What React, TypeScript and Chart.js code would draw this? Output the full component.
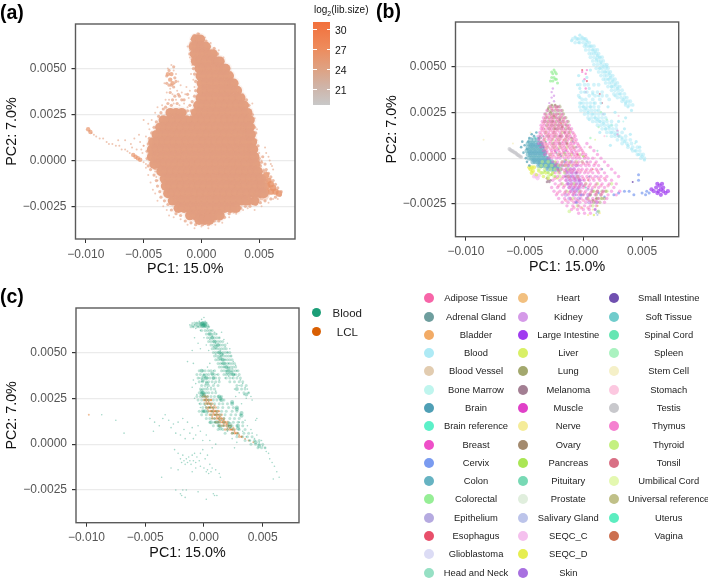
import React, { useEffect, useRef } from "react";
import { Chart, registerables } from "chart.js";

Chart.register(...registerables);

// ---- shared axis tables
const xTickValues = [-0.01, -0.005, 0, 0.005];
const xTickLabels = ["\u22120.010", "\u22120.005", "0.000", "0.005"];
const yTickValues = [-0.0025, 0, 0.0025, 0.005];
const yTickLabels = ["\u22120.0025", "0.0000", "0.0025", "0.0050"];

// ---- panel (a): rows are [PC2, PC1, PC1, ...]
const aBodyRows = [
  [66, -5, -1],
  [62, -7, -3, 1, 4],
  [58, -6, -2, 3, 7, 10],
  [54, -5, 0, 5, 10, 14, 16],
  [50, -2, 3, 8, 13, 18, 21],
  [46, -1, 4, 9, 14, 19, 24],
  [42, 0, 5, 10, 15, 20, 25, 28],
  [38, 0, 5, 10, 15, 20, 25, 31],
  [34, -1, 4, 9, 14, 19, 24, 29, 34],
  [30, -3, 2, 7, 12, 17, 22, 27, 32, 37],
  [26, -27, -22, -17, -5, 0, 5, 10, 15, 20, 25, 30, 35, 40],
  [22, -33, -28, -23, -18, -13, -8, -3, 2, 7, 12, 17, 22, 27, 32, 37, 42],
  [18, -36, -31, -26, -21, -16, -11, -6, -1, 4, 9, 14, 19, 24, 29, 34, 39, 42],
  [14, -39, -34, -29, -24, -19, -14, -9, -4, 1, 6, 11, 16, 21, 26, 31, 36, 41, 43],
  [10, -42, -37, -32, -27, -22, -17, -12, -7, -2, 3, 8, 13, 18, 23, 28, 33, 38, 44],
  [6, -43, -38, -33, -28, -23, -18, -13, -8, -3, 2, 7, 12, 17, 22, 27, 32, 37, 42, 45],
  [2, -43, -38, -33, -28, -23, -18, -13, -8, -3, 2, 7, 12, 17, 22, 27, 32, 37, 42, 46],
  [-2, -41, -36, -31, -26, -21, -16, -11, -6, -1, 4, 9, 14, 19, 24, 29, 34, 39, 44, 47],
  [-6, -35, -30, -25, -20, -15, -10, -5, 0, 5, 10, 15, 20, 25, 30, 35, 40, 45, 49],
  [-10, -32, -27, -22, -17, -12, -7, -2, 3, 8, 13, 18, 23, 28, 33, 38, 43, 48, 52],
  [-14, -31, -26, -21, -16, -11, -6, -1, 4, 9, 14, 19, 24, 29, 34, 39, 44, 49, 53],
  [-18, -29, -24, -19, -14, -9, -4, 1, 6, 11, 16, 21, 26, 31, 36, 41, 46, 51, 54],
  [-22, -25, -20, -15, -10, -5, 0, 5, 10, 15, 20, 25, 30, 35, 40, 46],
  [-26, -20, -15, -10, -5, 0, 5, 10, 15, 20, 25, 30],
  [-30, -10, -5, 0, 4, 8, 12, 16],
  [-32.5, -2, 3, 7],
];
const aGreyPatch = [
  3, 58, 6, 55, 9, 52, 6, 50, 12, 49, 15, 46, 11, 45, 18, 42, 15, 40,
  20, 37, 18, 33, 22, 29, 19, 25, 25, 32, 17, 21,
  26, 8, 31, 6, 36, 4, 28, 2, 33, 0, 38, -2, 30, -4, 35, -6, 39, -8, 26, -3,
  3, -30, 8, -29, 13, -30, 5, -26, 10, -25, 15, -26, -1, -27, 27, -19, 31, -21, 24, -22,
  -22, -14, -17, -16, -13, -18, -24, 6, -20, 9, -25, 14, -6, 10, 1, 4, -4, 1,
];
const aDeepPatch = [
  -4, 66, -1, 64, -4, 62, 14, -9, 18, -11, 22, -13, 26, -15, 30, -17,
  43, -16, 47, -15, 51, -15, 55, -14, 50, -19, 54, -19, 44, -20, -12, -14, -8, -17,
  -37, 5, -33, 2, -29, 0, -24, -3, 8, 12, 12, 14,
];
const aWedge = [
  56, -8, 58, -11, 60, -13, 57, -14, 62, -15, 64, -17, 60, -17, 56, -17, 67, -18,
];
const aFringe = [
  -10, 60, -12, 62, -10, 56, -8, 52, -9, 47, -7, 44, -6, 40, -10, 38, -13, 40, -11, 34, -14, 36,
  -17, 37, -18, 41, -21, 38, -23, 42, -25, 36, -22, 33, -27, 39, -30, 37, -28, 33, -15, 31, -19, 30,
  -12, 29, -24, 31, -32, 42, -29, 50, -26, 52, -24, 49, -22, 47, -20, 43, -31, 33, -34, 30, -38, 29,
  -40, 26, -43, 22, -45, 17, -48, 13, -50, 8, -51, 4, -48, -4, -46, -8, -44, -12, -42, -16,
  -40, -18, -38, -22, -33, -25, -30, -27, -28, -30, -24, -31, -18, -32, -12, -35, -6, -37, 0, -36,
  6, -37, 12, -35, 18, -34, 24, -31, 30, -29, 36, -27, 40, -26, 46, -27, 52, -25, 58, -23,
  62, -21, 66, -21, 47, 6, 50, 4, 52, 0, 49, -3, 46, 11, 48, 17, 46, 23, 42, 27, 44, 31, 36, 36,
  30, 41, 27, 46, 23, 51, 19, 56, 15, 60, 8, 64, 3, 67, -2, 69, -7, 68, -9, 66,
];
const aSoftEdge = [
  -9, 64, -10, 58, -8, 55, -7, 50, -6, 47, -5, 43, -5, 38, -6, 35, -8, 32, -10, 30, -12, 27, -9, 27, -14, 26,
  -15, 33, -12, 36, -17, 33, -19, 35, -21, 31, -23, 35, -25, 33, -26, 30, -29, 31, -31, 29, -33, 28, -35, 26,
  -24, 40, -26, 41, -28, 41, -30, 42, -23, 45, -22, 43, -24, 51, -28, 49, -30, 46, -27, 37, -20, 36,
  -37, 24, -39, 21, -41, 18, -43, 15, -45, 12, -46, 9, -47, 5, -47, 1, -46, -3, -44, -5, -41, -8, -39, -11,
  -38, -14, -36, -17, -35, -20, -32, -22, -29, -24, -26, -27, -22, -29, -18, -30, -14, -33, -9, -34, -5, -35,
  1, -35, 6, -35, 11, -33, 15, -33, 20, -31, 24, -29, 28, -28, 34, -26, 38, -25, 42, -25, 47, -24, 51, -23,
  55, -22, 60, -21, 64, -20, 68, -19, 69, -17, 66, -15, 64, -13, 62, -11, 60, -9, 58, -7, 56, -5, 55, -2, 53, 2,
  50, 1, 49, 8, 47, 11, 47, 15, 45, 19, 44, 25, 41, 30, 39, 33, 36, 33, 33, 37, 31, 40, 29, 43, 27, 44, 25, 48,
  22, 49, 19, 52, 17, 55, 14, 58, 11, 61, 7, 62, 4, 65, 1, 67, -3, 69, -6, 68,
  51, -3, 50, -6, 54, -6, 53, -10, 56, -11, 55, -12, 47, 3, 52, -1, 49, 0, 46, 18, 44, 22,
];
const aTail = [
  -97, 16, -95, 15, -93, 14, -91, 13, -88, 12, -85, 12, -82, 10, -80, 9, -77, 9, -74, 8,
  -71, 8, -69, 6, -66, 6, -64, 5, -62, 4, -60, 7, -56, 6, -52, 6, -50, 8, -46, 5, -50, -1,
  -48, -2, -53, 10, -58, 12, -61, 9, -66, 11, -72, 11, -54, 14, -46, 20, -50, 22,
  55, 7, 56, 4, 58, 2, 59, 0, 60, -2, 61, -3, 62, -5, 54, -5, 56, -6,
  -41, -3, -40, -6, -39, -9, -38, -11,
];
const aDenseSpots = [
  -98, 17, -96, 15.5, -59, 3, -57, 2, -55, 1.2, -53, 0.4,
  -27, 44, -29, 47, -26, 47, -25, 42,
  -41, -2, -40, -4,
];

// ---- panel (b): tissue scatter, flat x,y pairs and [PC2, PC1...] rows
const bBlood = [
  -10, 64, -7, 66, -5, 65, -3, 67, -1, 66, 1, 65, 3, 64, -4, 63, 2, 62, 6, 61, 8, 59, 10, 58, 12, 56,
  14, 55, 11, 54, 15, 52, 17, 50, 20, 50, 14, 49, 19, 47, 22, 46, 23, 44, 25, 42, 21, 43, 27, 40, 24, 39,
  29, 38, 31, 35, 27, 34, 34, 32, 36, 30, 38, 28, 41, 26, -4, 45, -5, 40, -3, 38, 0, 42, 3, 44, 6, 48,
  -3, 33, 1, 36, 5, 38, 8, 35, -2, 30, 0, 28, 2, 27, 4, 25, 6, 28, 8, 24, 10, 22, 12, 21, 14, 20, 17, 19,
  19, 16, 22, 17, 24, 14, 27, 13, 30, 12, 33, 11, 35, 9, 38, 7, 41, 5, 44, 4, 47, 2, 50, 1, 52, -1, 30, 20,
  35, 16, 40, 13, 45, 9, 27, 25, 21, 28, 15, 30, 13, 34, 18, 24, 36, 22, 9, 30, 5, 21, 48, 6, 14, 14, 23, 7,
];
const bBloodRows = [
  [65, -9, -6, -4, -2, 0, 2], [63, -7, -3, 0, 3, 5], [61, 1, 3, 5, 7, 9], [59, 2, 5, 8, 10, 12], [57, 5, 7, 9, 11, 13],
  [55, 6, 9, 12, 14, 16], [53, 8, 11, 13, 15, 17], [51, 9, 12, 15, 18, 20], [49, 11, 14, 16, 19, 21], [47, 13, 16, 18, 21, 23],
  [45, 15, 18, 20, 23, 25], [43, 17, 19, 22, 25, 27], [41, 19, 22, 24, 27, 29], [39, 21, 24, 26, 29, 31], [37, 24, 27, 30, 33],
  [35, 26, 29, 32, 35], [33, 29, 32, 35, 37], [31, 33, 36, 38, 40], [29, 36, 39, 42],
  [40, -3, 1, 4, 9, 13], [36, -2, 3, 8, 12, 16], [34, -4, 5, 10, 16, 20], [32, -1, 2, 8, 14, 22],
  [30, -3, 0, 3, 6, 10], [28, -3, 0, 3, 6, 9, 13], [26, -2, 1, 4, 7, 10, 13], [24, 1, 4, 7, 10, 13, 16], [22, 4, 7, 10, 13, 16, 19],
  [20, 8, 11, 14, 17, 20, 24], [18, 12, 15, 18, 21, 24, 28], [16, 16, 19, 22, 25, 28], [14, 20, 23, 26, 29, 33], [12, 24, 27, 31, 36],
  [10, 29, 33, 36, 40], [8, 33, 37, 41], [6, 38, 42, 46], [4, 42, 45, 48], [2, 46, 49, 51], [0, 49, 52],
];
const bTestis = [
  -63, 5, -62, 4.5, -61, 4, -60, 3.8, -59, 3.2, -58, 3, -57, 2.4, -56, 1.8, -55, 1.5, -54, 1, -53, 0.6,
];
const bLargeIntestine = [
  72, -18, 70, -19, 68, -18, 66, -17, 65, -15, 63, -14, 66, -20, 63, -19, 60, -18, 58, -17, 62, -16,
  68, -16, 64, -18, 67, -14,
];
const bCervix = [
  56, -19, 53, -20, 54, -18, 50, -19, 47, -12, 47, -9, 35, -18, 39, -18, 43, -20, 30, -19, 26, -20,
];
const bSeqcD = [-45, -6, -44, -5, -43, -7, -46, -5, -44, -8, -42, -5];
const bLiverBand = [-40, -9, -38, -7, -36, -8, -34, -10, -32, -8, -30, -11, -28, -9, -26, -8];
const bSeqcC = [-41, -9, -40, -10, -39, -11, -38, -9.5, -42, -10];
const bColonRows = [
  [10, -45, -42, -39], [8, -47, -45, -43, -41, -38, -36], [6, -47, -45, -43, -41, -39, -37, -35],
  [4, -48, -46, -44, -42, -40, -38, -36, -34], [2, -47, -45, -43, -41, -39, -37, -35, -33],
  [0, -46, -44, -42, -40, -38, -36, -34, -32, -30], [-2, -43, -41, -39, -37, -35, -33, -31, -29, -27],
  [-4, -38, -36, -34, -32, -30, -28, -26, -24, -22], [-6, -30, -27, -25, -23, -20],
];
const bCervixRows = [
  [7, -44, -40, -36], [3, -45, -41, -37, -33], [-1, -42, -38, -34, -30], [-3, -37, -33, -29, -25], [-5, -31, -27, -23],
];
const bBrain = [
  -48, 5, -47, 9, -46, 11, -42, 12, -38, 11, -50, 7, -52, 9, -51, 3, -49, 0, -48, -2, -46, -4, -53, 6, -44, 13, -40, 14,
];
const bBreastRows = [
  [28, -28, -24, -21], [26, -31, -26, -22, -19], [24, -33, -29, -25, -22, -18], [22, -34, -31, -27, -23, -20, -16],
  [20, -35, -32, -28, -25, -21, -18, -14], [18, -36, -33, -29, -26, -22, -19, -15, -12],
  [16, -36, -34, -30, -27, -23, -20, -17, -13, -10], [14, -37, -33, -30, -26, -24, -20, -16, -13, -9],
  [12, -38, -35, -31, -28, -25, -21, -18, -14, -11, -7], [10, -38, -34, -30, -27, -23, -20, -16, -13, -9, -6],
  [8, -38, -35, -32, -29, -25, -22, -18, -15, -11, -8, -5, 3], [6, -36, -33, -30, -26, -23, -19, -16, -12, -9, -6, -3, 6],
  [4, -34, -31, -27, -24, -21, -17, -14, -10, -7, -4, -1, 9], [2, -33, -29, -26, -22, -19, -15, -12, -8, -5, -1, 2, 12],
  [0, -30, -27, -23, -20, -16, -13, -9, -6, -3, 1, 4, 8, 15], [-2, -26, -22, -18, -14, -11, -7, -4, -1, 3, 6, 11, 18],
  [-4, -24, -20, -16, -13, -9, -6, -2, 2, 5, 9, 13, 21], [-6, -22, -18, -15, -11, -8, -4, -1, 3, 7, 11, 15, 24],
  [-8, -24, -20, -14, -10, -6, -3, 1, 4, 8, 13, 18, 27], [-10, -22, -17, -13, -9, -5, -1, 3, 6, 10, 15, 20, 30],
  [-12, -26, -20, -15, -11, -7, -3, 1, 5, 9, 14, 19, 24], [-14, -24, -19, -14, -10, -6, -2, 2, 6, 11, 16, 22, 28],
  [-16, -27, -22, -17, -12, -8, -4, 0, 4, 8, 13, 18, 26], [-18, -25, -20, -15, -11, -7, -2, 2, 7, 12, 17, 24, 31],
  [-20, -23, -18, -13, -9, -4, 0, 5, 10, 15, 21, 28], [-22, -21, -16, -11, -7, -2, 3, 8, 13, 20],
  [-24, -18, -13, -8, -3, 2, 7, 12, 18], [-26, -14, -9, -4, 1, 6, 11], [-28, -10, -5, 0, 5, 10], [-30, -4, 1, 6],
];
const bAdiposeRows = [
  [27, -27, -23], [23, -31, -27, -24, -19], [21, -33, -29, -26, -22, -17], [19, -34, -30, -27, -24, -20, -16],
  [17, -35, -31, -28, -25, -21, -18, -13], [15, -35, -32, -28, -25, -22, -18, -15, -11], [13, -36, -32, -29, -26, -23, -19, -15, -12, -8],
  [11, -37, -33, -29, -26, -22, -19, -15, -12, -8], [9, -36, -33, -28, -24, -21, -17, -14, -10, -7], [7, -34, -31, -27, -24, -20, -17, -13, -10, -4],
  [5, -32, -28, -25, -22, -18, -15, -11, -8, -2], [3, -31, -27, -24, -20, -17, -13, -10, -6, 0], [1, -28, -25, -21, -18, -14, -11, -7, -4, 2],
  [-3, -23, -19, -15, -12, -8, -5, 0, 4, 10], [-7, -21, -16, -12, -9, -5, -2, 2, 6, 12], [-11, -24, -18, -12, -8, -4, 0, 4, 8, 13, 18],
  [-15, -21, -16, -11, -7, -3, 1, 5, 10, 15, 21], [-19, -22, -16, -12, -8, -3, 1, 6, 11, 16], [-23, -15, -10, -5, 0, 5, 10], [-27, -8, -2, 4],
];
const bLungRows = [
  [28, -29, -26, -23, -20], [26, -30, -27, -24, -21, -18], [24, -32, -28, -26, -23, -20, -17],
  [22, -32, -29, -26, -24, -21, -18, -15], [20, -33, -30, -27, -23, -20, -17, -13], [18, -31, -27, -24, -21, -18, -14],
  [16, -29, -25, -22, -19, -15, -12], [12, -30, -24, -19, -14], [8, -26, -20, -14],
  [-18, 8, 12, 16, 19], [-20, 6, 11, 15], [-22, 12, 16, 18], [-24, 9, 14],
];
const bThyroidRows = [
  [14, -32, -25, -18, -12], [10, -33, -26, -21, -15, -10], [6, -31, -25, -20, -14, -8], [2, -28, -21, -16, -10, -3],
  [-2, -35, -30, -24, -18, -12, -6, -1], [-4, -36, -32, -27, -21, -15, -10], [-6, -38, -33, -28, -24, -19, -13],
  [-8, -35, -30, -26, -21, -16], [-10, -30, -25, -20, -13, -5], [-14, -18, -8, 2, 12, 24], [-18, -14, -3, 9, 20],
  [-22, -9, 4, 15], [-26, -5, 8], [-29, -12, 13],
];
const bSkinRows = [
  [-6, -14, -11, -8], [-8, -15, -12, -9, -6], [-10, -15, -13, -10, -7, -4], [-12, -14, -11, -8, -5, -3],
  [-14, -13, -10, -7, -4, -2], [-16, -12, -9, -6, -3], [-18, -10, -7, -4], [-20, -15, -8, -2, 4], [-22, -12, -4, 3],
  [-24, -6, 5, 11], [-4, -18, -13, -6], [-2, -16, -10],
];
const bOvary = [-28, 25, -25, 23, -22, 28, -20, 21, -18, 17, -26, 20, -16, 14, -24, 16, 8, -23, 11, -22, -30, 27, -27, 29, -24, 29];
const bPancreas = [-36, -5, -33, -7, -30, -8, -27, -9, -24, -10, -21, -7, -18, -4, -15, -1, 0, 1, -33, 4];
const bEpithelium = [-14, -7, -13, -14, -11, -10, -9, -17, -7, -11, -5, -17, -3, -12, 0, -15, 4, -17, -6, -20];
const bKidney = [-24, 4, -20, 8, -15, 4, -9, 3, -4, -4, 0, -12, 4, -21, 7, -17, 12, -10, -27, 33, -26, 38, -25, 34, -29, 30, -27, 36, -25, 31];
const bCervixExtra = [-2, -20, -6, -24, 6, -20, 13, -19, 18, -21, 13, -29, 12, -29, 10, -28];
const bColorectal = [-26, 46, -25, 44, -24, 43, -27, 44, -23, 46, -24, 47, -26, 42, -28, 42, -22, 41, -16, 3, -25, 48, -27, 47, -23, 43];
const bSoftTissue = [-23, 3, -16, -2, -9, 9, 0, -20, 5, -10, 16, -6];
const bHeadNeck = [-21, 5, -15, 9, -12, 14, -6, 6, 3, -2, 12, 4];
const bStomach = [-33, 1, -26, -4, -18, -2, -10, -2, 1, -3, 10, 0, 18, 12, 30, 23];
const bThymus = [2, 36, 2, 38, 17, 24, 29, 13, 29, 15, 3, 48, 2, 46, 1, 43, -1, 47];
const bSpleen = [15, 25, 20, 21, 24, 18, 13, 17, 6, 11];
const bEsophagus = [-1, 48, 3, 42, 30, 12, -15, -10, -5, 2];
const bProstate = [-32, 14, -26, 29, -20, 29, -15, 18, -10, 14];
const bNerve = [-32, 8, -24, -2, -14, -4, -1, -27, 8, -28, 14, -30, 4, -31];
const bLiver = [-34, -8, -30, -5, -22, -11, -16, -4, 12, -26, 9, -31];
const bMelanoma = [-31, -11, -30, -12, -29, -13, -28, -12, -31, -13, -20, 12, -10, 11];
const bSeqcCExtra = [-22, 0, -18, 9, -8, 8, 1, 6];
const bMinorTissues: Record<string, number[]> = {
  "Adrenal Gland": [-20, 2, -6, -8],
  Bladder: [-19, 19, 8, -6],
  "Blood Vessel": [-21, 24, 10, -16],
  "Bone Marrow": [34, 20, 12, 26, 44, 8, 20, 12],
  "Brain reference": [-41, 11, -36, 9],
  Glioblastoma: [-44, 11, -40, 12],
  Heart: [-17, 10, 4, -12],
  "Small Intestine": [-34, 6, 42, -13],
  Pituitary: [-36, 11, -34, 12],
  "Salivary Gland": [12, -31, 13, -30, 11, -30, -3, -22],
  "Spinal Cord": [-37, 12, -32, 9],
  "Stem Cell": [-85, 10, -60, 8, -45, 14],
  Tonsil: [14, 35, 16, 30],
  "Umbilical Cord": [5, 6, 10, 10],
  "Universal reference": [-33, 16],
  Uterus: [-19, 1, 2, -16],
  Vagina: [-21, -6, -14, 8],
};

// ---- panel (c): Blood and LCL
const cBloodSparse = [
  -12, 65, -10, 66, -9, 64, -8, 65, -7, 63, -6, 66, -5, 64, -4, 67, -3, 62, -2, 68, 0, 69, 1, 67, 2, 66, 3, 63, 4, 64,
  -8, 58, -10, 51, -14, 45, -9, 44, -5, 55, -3, 52, 0, 58, 2, 54, 5, 57, 4, 51, 7, 59, 8, 53, 9, 61, 11, 60,
  6, 62, 10, 55, 13, 58, 15, 61, 17, 57, 18, 53, 20, 55, 10, 49, 12, 47, 14, 51, 16, 49, 18, 46, 20, 50, 22, 52,
  15, 44, 17, 42, 19, 40, 21, 44, 23, 48, 24, 41, 25, 45, 27, 43, 18, 36, 21, 37, 24, 36, 26, 38, 28, 40, 29, 37,
  31, 35, 30, 32, 33, 33, 35, 31, 37, 30, 38, 28, 34, 27, 36, 25, 40, 26, 41, 24, 32, 22, 30, 28, 26, 30, 27, 26,
  -9, 35, -10, 31, -7, 33, -4, 36, -2, 34, 0, 38, 3, 42, 5, 44, 8, 40, 11, 38, 13, 35, 9, 33, 6, 31, 3, 31, 10, 29,
  -6, 27, -8, 25, -4, 22, -3, 20, -1, 18, 1, 21, 3, 17, 5, 20, 7, 14, 9, 12, 12, 16, 15, 13, 17, 10, 20, 7, 23, 9,
  25, 6, 28, 5, 30, 12, 33, 7, 35, 13, 37, 10, 36, 4, 39, 2, 41, 6, 43, 3, 45, 5, 47, 1, 49, 2, 50, -1, 52, -2,
  53, -4, 55, -5, 56, -8, 58, -10, 60, -12, 62, -15, 64, -18, 59, -19, 44, 13, 45, 14, 40, 8, 28, 1, 24, 3, 26, -2,
  -46, 14, -42, 12, -43, 7, -38, 10, -35, 14, -33, 16, -30, 13, -28, 9, -26, 11, -24, 6, -22, 12, -20, 5, -18, 14,
  -17, 8, -16, 3, -14, 12, -12, 6, -10, 9, -9, 3, -7, 5, -5, 10, -3, 7, -1, 2, 2, 5, 5, 2, 7, -2, 10, 0,
  -25, -3, -22, -5, -20, -8, -19, -10, -18, -6, -17, -9, -16, -11, -15, -8, -14, -10, -13, -7, -12, -9, -11, -11,
  -10, -6, -9, -9, -8, -5, -7, -10, -6, -7, -4, -9, -3, -5, -1, -3, 1, -8, 3, -6, 5, -11, -28, -13, -22, -14,
  -10, -15, -7, -13, -3, -12, 0, -13, 2, -15, 3, -14, 4, -16, 6, -15, 7, -13, 10, -14, 13, -16, 14, -18, -36, -18,
  -24, -25, -20, -27, -19, -28, -18, -25, -16, -29, -15, -25, -5, -26, 2, -30, 8, -27, 9, -28, 11, -28,
  -75, 13, -68, 6, -87, 16,
];
const cBloodRows = [
  [66, -8, -6, -4, -3, -1, 0, 1, 2], [65, -10, -7, -5, -3, -2, 0, 1, 3], [64, -11, -9, -6, -4, -2, 0, 2, 4],
  [62, -2, 1, 3, 5, 7], [60, 2, 4, 6, 8, 10], [58, 3, 5, 7, 9, 11, 13], [56, 4, 6, 8, 10, 12, 14, 16],
  [54, 6, 8, 10, 12, 14, 16, 18], [52, 7, 9, 11, 13, 15, 17, 19], [50, 8, 10, 12, 14, 16, 18, 20, 22],
  [48, 9, 11, 13, 15, 17, 19, 21, 23], [46, 10, 12, 14, 16, 18, 20, 22, 24], [44, 12, 14, 16, 18, 20, 22, 24, 26],
  [42, 13, 15, 17, 19, 21, 23, 25, 27], [40, 15, 17, 19, 21, 23, 25, 27, 29], [38, 17, 19, 21, 23, 25, 27, 30],
  [36, 19, 22, 25, 28, 31], [34, 22, 26, 30, 33], [32, 28, 32, 36], [30, 32, 35], [28, 34, 38],
  [40, -4, -1, 1, 4, 6, 9], [38, -6, -3, 0, 2, 4, 7, 9, 12], [36, -5, -2, 1, 3, 5, 8, 10, 13], [34, -4, -1, 2, 4, 7, 10, 13],
  [32, -2, 1, 4, 8, 12], [30, -3, -1, 1, 3, 6, 9], [28, -4, -2, 0, 2, 4, 7, 10], [26, -6, -3, -1, 1, 3, 6, 9, 12, 15],
  [24, -5, -2, 1, 4, 8, 11, 14, 17], [22, -3, 0, 3, 6, 9, 13, 16, 20], [20, -1, 2, 5, 8, 12, 16, 21, 25],
  [18, -4, 0, 3, 7, 11, 15, 19, 24, 28], [16, -2, 2, 6, 10, 14, 18, 23, 27, 31], [14, 2, 5, 9, 13, 17, 22, 26, 30],
  [12, 5, 9, 13, 17, 21, 25, 29, 33], [10, 8, 12, 16, 20, 24, 28, 33], [8, 12, 16, 20, 25, 30, 35],
  [6, 18, 24, 29, 34, 38], [4, 28, 33, 37, 41], [2, 35, 39, 43, 47], [0, 40, 44, 47, 50], [-2, 46, 49, 52],
];
const cBloodDense = [
  -2, 65.5, -1, 66, 0, 65, -1, 64.5, 1, 64.5,
  5, 60, 7, 58, 9, 56, 10, 53, 12, 54, 13, 50, 15, 49, 14, 47, 16, 46, 17, 44, 19, 42, 21, 41, 23, 39, 25, 38, 20, 39,
  28, 30, 36, 27,
  -2, 40, 0, 37, 2, 36, 2.5, 33, 7, 38.5, 8, 36, -1, 35,
  -2, 29, -1, 28, -2, 27, 0, 27, 14, 25, 15, 24, 13, 26,
  24, 23, 24, 22, 28, 20, 28, 19, 32, 17, 32, 15.5, 29, 10, 29, 8.5, 22, 11, 22, 9.5, 14, 8.6, 13, 10,
  -1, 18, 1, 18, 6, 12, 11, 12, 47, -1, 44, 1,
];
const cLcl = [
  0, 27, 1, 26, 1, 24, 2, 25, 2, 23, 3, 24, 3, 22, 4, 23, 4, 20, 5, 22, 5, 20, 6, 21, 6, 18, 7, 20, 7, 18,
  8, 19, 8, 17, 9, 18, 9, 16, 10, 18, 10, 16, 11, 17, 11, 15, 12, 16, 12, 14, 13, 15, 13, 13, 14, 15, 14, 13,
  15, 14, 16, 13, 16, 12, 17, 13, 17, 11, 18, 12, 19, 11, 20, 11, 20, 9, 21, 10, 22, 9, 23, 8, 24, 8, 25, 9,
  26, 7, 27, 6, 29, 6, 30, 5, 32, 4, 35, 3, 38, 2, 42, 1, 6, 24, 9, 21, 13, 18, 3, 19, 7, 15, -98, 16,
];
const cLclRows = [
  [26, -1, 1, 3], [24, 0, 2, 4, 6], [22, 1, 3, 5, 7], [20, 2, 4, 6, 8, 10], [18, 4, 6, 8, 10, 12],
  [16, 5, 7, 9, 11, 13, 15], [14, 7, 9, 11, 13, 15, 17], [12, 10, 12, 14, 16, 18, 20], [10, 13, 15, 17, 19, 21, 23],
  [8, 18, 20, 22, 24, 26], [6, 24, 26, 28], [4, 30, 32],
];

// ---- legend tables
const tissueNames = [
  "Adipose Tissue", "Adrenal Gland", "Bladder", "Blood", "Blood Vessel", "Bone Marrow", "Brain", "Brain reference",
  "Breast", "Cervix", "Colon", "Colorectal", "Epithelium", "Esophagus", "Glioblastoma", "Head and Neck",
  "Heart", "Kidney", "Large Intestine", "Liver", "Lung", "Melanoma", "Muscle", "Nerve", "Ovary", "Pancreas",
  "Pituitary", "Prostate", "Salivary Gland", "SEQC_C", "SEQC_D", "Skin",
  "Small Intestine", "Soft Tissue", "Spinal Cord", "Spleen", "Stem Cell", "Stomach", "Testis", "Thymus", "Thyroid",
  "Tonsil", "Umbilical Cord", "Universal reference", "Uterus", "Vagina",
];
const tissueColors = [
  "#f765a8", "#6e9e9e", "#f2ab66", "#aeeaf5", "#e2ccb0", "#bff5ee", "#4f9fb5", "#5cf0c8",
  "#ee4fc8", "#7a9bf0", "#66b3c2", "#96ee96", "#b5aae0", "#e84f6a", "#dcdcf5", "#96e0c4",
  "#f2c080", "#d59ae8", "#a03cf0", "#d9f066", "#a3a86e", "#a37f93", "#e040c8", "#f5ec99", "#a38a6e", "#aae655",
  "#78d9b5", "#e0eedd", "#bcc4ea", "#f5c0ee", "#e6ee50", "#a870e0",
  "#7050b0", "#70cccc", "#66e6b3", "#aaf2c0", "#f5f0c8", "#fcc8e0", "#c8c8cc", "#f580d0", "#c4f080",
  "#d97085", "#e4f8b0", "#c0c088", "#5cedc0", "#cc7050",
];
const tissueColumnLengths = [16, 16, 14];
const libSizeTicks = [30, 27, 24, 21];

// ---- helpers
const unit = 1e-4;
const pairs = (flat: number[]) => {
  const out: { x: number; y: number }[] = [];
  for (let i = 0; i + 1 < flat.length; i += 2) out.push({ x: flat[i] * unit, y: flat[i + 1] * unit });
  return out;
};
const rows = (table: number[][]) =>
  table.flatMap(([y, ...xs]) => xs.map((x) => ({ x: x * unit, y: y * unit })));
const colorOf = (name: string) => tissueColors[tissueNames.indexOf(name)];
const alpha = (hex: string, a: number) => {
  const n = parseInt(hex.slice(1), 16);
  return `rgba(${n >> 16},${(n >> 8) & 255},${n & 255},${a})`;
};
const series = (flat: { x: number; y: number }[], color: string, radius: number) => ({
  data: flat,
  backgroundColor: color,
  pointRadius: radius,
  pointBorderWidth: 0,
  pointHoverRadius: radius,
});

const FONT = '"Liberation Sans", Arial, sans-serif';
const FRAME = "#5a5a5a";

type Box = {
  left: number; top: number; width: number; height: number;
  plot: [number, number, number, number]; // canvas-relative left, top, right, bottom
  x: [number, number]; y: [number, number];
};

function makeConfig(box: Box, datasets: any[]): any {
  const [pl, pt, pr, pb] = box.plot;
  const frame = {
    id: "frame",
    afterDraw(chart: any) {
      const { ctx, chartArea: a } = chart;
      ctx.save();
      ctx.strokeStyle = FRAME;
      ctx.lineWidth = 1.4;
      ctx.strokeRect(a.left, a.top, a.right - a.left, a.bottom - a.top);
      ctx.restore();
    },
  };
  return {
    type: "scatter",
    data: { datasets },
    plugins: [frame],
    options: {
      animation: false,
      responsive: false,
      devicePixelRatio: 1,
      layout: { padding: { left: 0, top: pt, right: box.width - pr, bottom: 0 } },
      plugins: { legend: { display: false }, tooltip: { enabled: false }, title: { display: false } },
      scales: {
        x: {
          type: "linear", min: box.x[0], max: box.x[1],
          afterBuildTicks: (s: any) => { s.ticks = xTickValues.map((value) => ({ value })); },
          afterFit: (s: any) => { s.height = box.height - pb; },
          ticks: {
            autoSkip: false, maxRotation: 0, padding: 4, color: "#555555",
            font: { family: FONT, size: 12 },
            callback: (v: number) => xTickLabels[xTickValues.indexOf(v)],
          },
          grid: { drawOnChartArea: false, drawTicks: true, tickLength: 4, tickColor: "#333333" },
          border: { display: false },
          title: { display: true, text: "PC1: 15.0%", color: "#111111", padding: { top: 0, bottom: 0 }, font: { family: FONT, size: 14.3 } },
        },
        y: {
          type: "linear", min: box.y[0], max: box.y[1],
          afterBuildTicks: (s: any) => { s.ticks = yTickValues.map((value) => ({ value })); },
          afterFit: (s: any) => { s.width = pl; },
          ticks: {
            autoSkip: false, padding: 5, color: "#555555",
            font: { family: FONT, size: 12 },
            callback: (v: number) => yTickLabels[yTickValues.indexOf(v)],
          },
          grid: { color: "#ebebeb", lineWidth: 1.2, tickLength: 4, tickColor: "#333333" },
          border: { display: false },
          title: { display: true, text: "PC2: 7.0%", color: "#111111", padding: { top: 3.5, bottom: 3 }, font: { family: FONT, size: 14.3 } },
        },
      },
    },
  };
}

function Panel({ box, datasets }: { box: Box; datasets: any[] }) {
  const ref = useRef<HTMLCanvasElement>(null);
  useEffect(() => {
    const chart = new Chart(ref.current as HTMLCanvasElement, makeConfig(box, datasets));
    return () => chart.destroy();
  }, []);
  return (
    <canvas
      ref={ref}
      width={box.width}
      height={box.height}
      style={{ position: "absolute", left: box.left, top: box.top, width: box.width, height: box.height }}
    />
  );
}

// ---- datasets
const A_MAIN = "#e5a182";
const A_GREY = "#d3ae9d";
const A_DEEP = "#e8956c";
const aDatasets = [
  series(pairs(aFringe), alpha(A_MAIN, 0.55), 1),
  series(pairs(aTail), alpha(A_MAIN, 0.6), 1),
  series(rows(aBodyRows), alpha(A_MAIN, 0.1), 6.4),
  series(pairs(aSoftEdge), alpha(A_MAIN, 0.7), 1.6),
  series(rows(aBodyRows), A_MAIN, 4.8),
  series(pairs(aGreyPatch), alpha(A_GREY, 0.22), 7),
  series(pairs(aGreyPatch), alpha(A_GREY, 0.3), 4.2),
  series(pairs(aDeepPatch), alpha(A_DEEP, 0.25), 5.5),
  series(pairs(aWedge), alpha(A_DEEP, 0.85), 3.2),
  series(pairs(aDenseSpots), alpha(A_DEEP, 0.7), 2.2),
];

const cloud = (table: number[][], name: string, r: number, a = 0.6) =>
  series(rows(table), alpha(colorOf(name), a), r);
const tissueSeries: [string, number[], number][] = [
  ["Blood", bBlood, 1.6],
  ["Ovary", bOvary, 1.3],
  ["Kidney", bKidney, 1.2],
  ["Pancreas", bPancreas, 1.3],
  ["Epithelium", bEpithelium, 1.5],
  ["Brain", bBrain, 1.3],
  ["Testis", bTestis, 1.9],
  ["SEQC_D", bSeqcD, 2.1],
  ["Liver", bLiverBand, 1.8],
  ["SEQC_C", bSeqcC, 2.1],
  ["Cervix", bCervix, 1.5],
  ["Large Intestine", bLargeIntestine, 2.1],
  ["Colorectal", bColorectal, 1.5],
  ["Soft Tissue", bSoftTissue, 1.1],
  ["Head and Neck", bHeadNeck, 1.1],
  ["Stomach", bStomach, 1.1],
  ["Thymus", bThymus, 1.2],
  ["Spleen", bSpleen, 1.2],
  ["Esophagus", bEsophagus, 1.1],
  ["Prostate", bProstate, 1.1],
  ["Nerve", bNerve, 1.1],
  ["Liver", bLiver, 1.2],
  ["Melanoma", bMelanoma, 1.3],
];
const bDatasets = [
  cloud(bBloodRows, "Blood", 1.9, 0.55),
  cloud(bAdiposeRows, "Adipose Tissue", 1.7, 0.42),
  cloud(bBreastRows, "Breast", 1.7, 0.4),
  cloud(bLungRows, "Lung", 1.8, 0.5),
  cloud(bThyroidRows, "Thyroid", 1.8, 0.55),
  cloud(bSkinRows, "Skin", 2.1, 0.42),
  cloud(bColonRows, "Colon", 2.5, 0.6),
  cloud(bCervixRows, "Cervix", 2.6, 0.6),
  ...tissueSeries.map(([name, flat, r]) => series(pairs(flat), alpha(colorOf(name), 0.7), r)),
  series(pairs(bCervixExtra), alpha(colorOf("Cervix"), 0.7), 1.2),
  series(pairs(bSeqcCExtra), alpha(colorOf("SEQC_C"), 0.7), 1.1),
  ...Object.entries(bMinorTissues).map(([name, flat]) => series(pairs(flat), alpha(colorOf(name), 0.8), 1)),
];

const BLOOD = "#1b9e77";
const LCL = "#d95f02";
const cDatasets = [
  series(pairs(cBloodSparse), alpha(BLOOD, 0.4), 0.8),
  series(rows(cBloodRows), alpha(BLOOD, 0.28), 1.5),
  series(pairs(cBloodDense), alpha(BLOOD, 0.35), 2),
  series(rows(cLclRows), alpha(LCL, 0.4), 1.3),
  series(pairs(cLcl), alpha(LCL, 0.4), 1),
];

const boxA: Box = { left: 0, top: 0, width: 302, height: 278, plot: [75.5, 24, 298, 239], x: [-0.01089, 0.00809], y: [-0.00428, 0.00743] };
const boxB: Box = { left: 380, top: 0, width: 302, height: 276, plot: [75.5, 22, 298.7, 236.7], x: [-0.01089, 0.00812], y: [-0.00428, 0.00742] };
const boxC: Box = { left: 0, top: 284, width: 303, height: 278, plot: [76, 24, 299, 238.7], x: [-0.01089, 0.00809], y: [-0.00428, 0.00742] };

const abs = (left: number, top: number): React.CSSProperties => ({ position: "absolute", left, top });

function PanelLetter({ text, left, top }: { text: string; left: number; top: number }) {
  return (
    <div style={{ ...abs(left, top), font: `bold 19.5px ${FONT}`, color: "#000", lineHeight: "22px" }}>{text}</div>
  );
}

function ColourBar() {
  const barTop = 22, barH = 83;
  const tickY = [29.5, 49.5, 69.5, 89.5];
  return (
    <>
      <div style={{ ...abs(314, 3), font: `10px ${FONT}`, color: "#111", lineHeight: "14px", whiteSpace: "nowrap" }}>
        log<sub style={{ fontSize: 7, lineHeight: 0 }}>2</sub>(lib.size)
      </div>
      <div style={{ ...abs(313, barTop), width: 17, height: barH, background: "linear-gradient(#f2703c 0%, #ee8a5a 30%, #dea283 57%, #cfb4a8 78%, #c8c8c8 100%)" }} />
      {libSizeTicks.map((t, i) => (
        <React.Fragment key={t}>
          <div style={{ ...abs(313, tickY[i] - 0.5), width: 3.5, height: 1, background: "#fff" }} />
          <div style={{ ...abs(326.5, tickY[i] - 0.5), width: 3.5, height: 1, background: "#fff" }} />
          <div style={{ ...abs(335, tickY[i] - 7), font: `10.5px ${FONT}`, color: "#111", lineHeight: "14px" }}>{t}</div>
        </React.Fragment>
      ))}
    </>
  );
}

function Dot({ cx, cy, r, color }: { cx: number; cy: number; r: number; color: string }) {
  return <div style={{ ...abs(cx - r, cy - r), width: 2 * r, height: 2 * r, borderRadius: "50%", background: color }} />;
}

function CentredLabel({ cx, cy, size, text }: { cx: number; cy: number; size: number; text: string }) {
  return (
    <div style={{ ...abs(cx - 60, cy - 7), width: 120, textAlign: "center", font: `${size}px ${FONT}`, color: "#222", lineHeight: "14px", whiteSpace: "nowrap" }}>
      {text}
    </div>
  );
}

function TissueLegend() {
  const dotX = [429, 522.7, 613.7];
  const labelX = [476, 568.3, 668.7];
  let idx = 0;
  const items: React.ReactNode[] = [];
  tissueColumnLengths.forEach((n, c) => {
    for (let r = 0; r < n; r++, idx++) {
      const y = 298.3 + r * 18.29;
      items.push(
        <React.Fragment key={tissueNames[idx]}>
          <Dot cx={dotX[c]} cy={y} r={5} color={tissueColors[idx]} />
          <CentredLabel cx={labelX[c]} cy={y} size={9.4} text={tissueNames[idx]} />
        </React.Fragment>
      );
    }
  });
  return <>{items}</>;
}

export default function App() {
  return (
    <div style={{ position: "absolute", left: 0, top: 0, width: 708, height: 578, background: "#fff", overflow: "hidden" }}>
      <Panel box={boxA} datasets={aDatasets} />
      <Panel box={boxB} datasets={bDatasets} />
      <Panel box={boxC} datasets={cDatasets} />
      <PanelLetter text="(a)" left={0} top={1} />
      <PanelLetter text="(b)" left={376} top={0} />
      <PanelLetter text="(c)" left={0} top={285} />
      <ColourBar />
      <Dot cx={316.7} cy={312.7} r={4.5} color={BLOOD} />
      <Dot cx={316.7} cy={331.7} r={4.5} color={LCL} />
      <CentredLabel cx={347.3} cy={312.7} size={11.5} text="Blood" />
      <CentredLabel cx={347.3} cy={331.7} size={11.5} text="LCL" />
      <TissueLegend />
    </div>
  );
}
